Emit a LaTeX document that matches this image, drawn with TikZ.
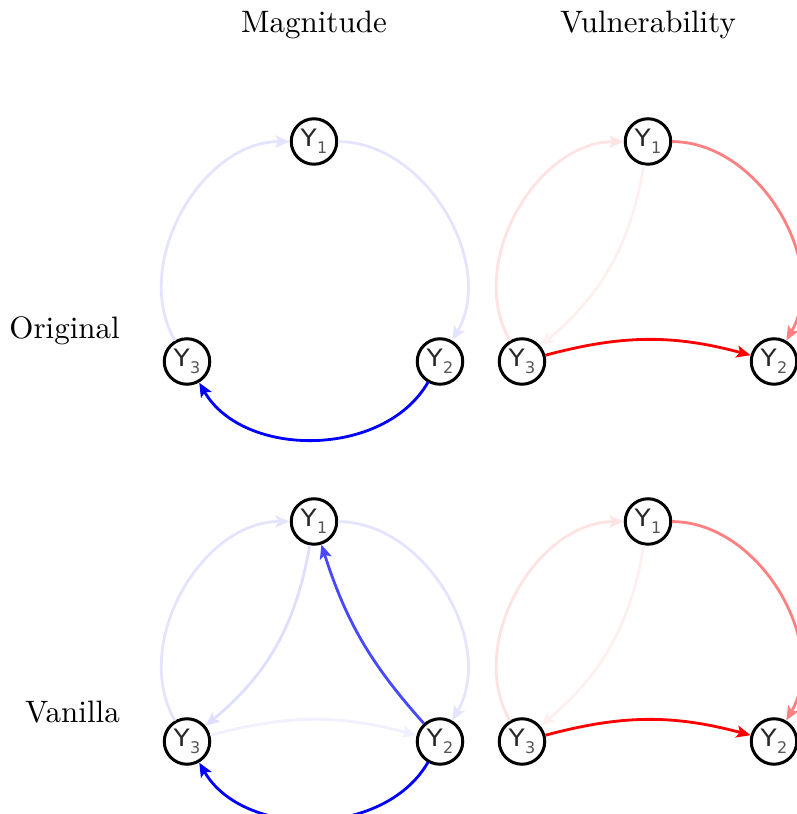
\documentclass[tikz,border=0pt]{standalone}
\usepackage{fontspec}
\usetikzlibrary{arrows.meta}
\newfontfamily\lblfont{DejaVu Sans}
\definecolor{bfull}{RGB}{0,0,255}
\definecolor{bmid}{RGB}{72,72,255}
\definecolor{blight}{RGB}{228,228,255}
\definecolor{blightb}{RGB}{222,222,255}
\definecolor{bvlight}{RGB}{240,240,255}
\definecolor{rfull}{RGB}{255,0,0}
\definecolor{rmid}{RGB}{255,128,128}
\definecolor{rlight}{RGB}{255,226,226}
\definecolor{rvlight}{RGB}{255,240,240}
\definecolor{ytext}{RGB}{40,40,40}
\definecolor{ysub}{RGB}{85,85,85}
\newcommand{\ylab}[1]{{\lblfont\fontsize{24}{24}\selectfont\color{ytext}\scalebox{1.1}[1]{Y}\kern0.5pt{\color{ysub}\fontsize{16}{16}\selectfont\raisebox{-7pt}{#1}}}}
\newcommand{\bigtext}[1]{\scalebox{3.1}{#1}}
\begin{document}
\begin{tikzpicture}[x=1pt,y=1pt,
  vnode/.style={circle, draw=black, line width=3pt, fill=white, minimum size=45.5pt, inner sep=0pt},
  edge/.style={line width=2.8pt, -{Stealth[length=14pt,width=12pt,inset=3pt]}},
  outer/.style={edge, bend left=60, looseness=1.135, shorten <=24pt, shorten >=24.5pt},
  inner/.style={edge, bend left=20},
  title/.style={anchor=base, inner sep=0pt}]
\useasboundingbox (0,0) rectangle (796,814);

% titles
\node[title] (tmag) at (314,781) {\bigtext{Magnitude}};
\node[title] (tvul) at (648,781) {\bigtext{Vulnerability}};
\node[title, anchor=base east] (torig) at (120,475) {\bigtext{Original}};
\node[title, anchor=base east] (tvan) at (120,91) {\bigtext{Vanilla}};

% top-left: Original / Magnitude
\node[vnode] (a1) at (314,672.5) {\ylab{1}};
\node[vnode] (a3) at (187,452.5) {\ylab{3}};
\node[vnode] (a2) at (440,452.5) {\ylab{2}};
\draw[outer, blight] (a3.center) to (a1.center);
\draw[outer, blight] (a1.center) to (a2.center);
\draw[outer, bfull] (a2.center) to (a3.center);

% top-right: Original / Vulnerability
\node[vnode] (b1) at (648,672.5) {\ylab{1}};
\node[vnode] (b3) at (522,452.5) {\ylab{3}};
\node[vnode] (b2) at (774,452.5) {\ylab{2}};
\draw[outer, rlight] (b3.center) to (b1.center);
\draw[inner, rvlight] (b1) to (b3);
\draw[outer, rmid] (b1.center) to (b2.center);
\draw[inner, bend left=15, rfull] (b3) to (b2);

% bottom-left: Vanilla / Magnitude
\node[vnode] (c1) at (314,292.5) {\ylab{1}};
\node[vnode] (c3) at (187,72.5) {\ylab{3}};
\node[vnode] (c2) at (440,72.5) {\ylab{2}};
\draw[inner, bend left=15, bvlight] (c3) to (c2);
\draw[outer, blight] (c3.center) to (c1.center);
\draw[outer, blight] (c1.center) to (c2.center);
\draw[inner, blightb] (c1) to (c3);
\draw[edge, bend left=12, bmid] (c2) to (c1);
\draw[outer, bfull] (c2.center) to (c3.center);

% bottom-right: Vanilla / Vulnerability
\node[vnode] (d1) at (648,292.5) {\ylab{1}};
\node[vnode] (d3) at (522,72.5) {\ylab{3}};
\node[vnode] (d2) at (774,72.5) {\ylab{2}};
\draw[outer, rlight] (d3.center) to (d1.center);
\draw[inner, rvlight] (d1) to (d3);
\draw[outer, rmid] (d1.center) to (d2.center);
\draw[inner, bend left=15, rfull] (d3) to (d2);
\end{tikzpicture}
\end{document}
